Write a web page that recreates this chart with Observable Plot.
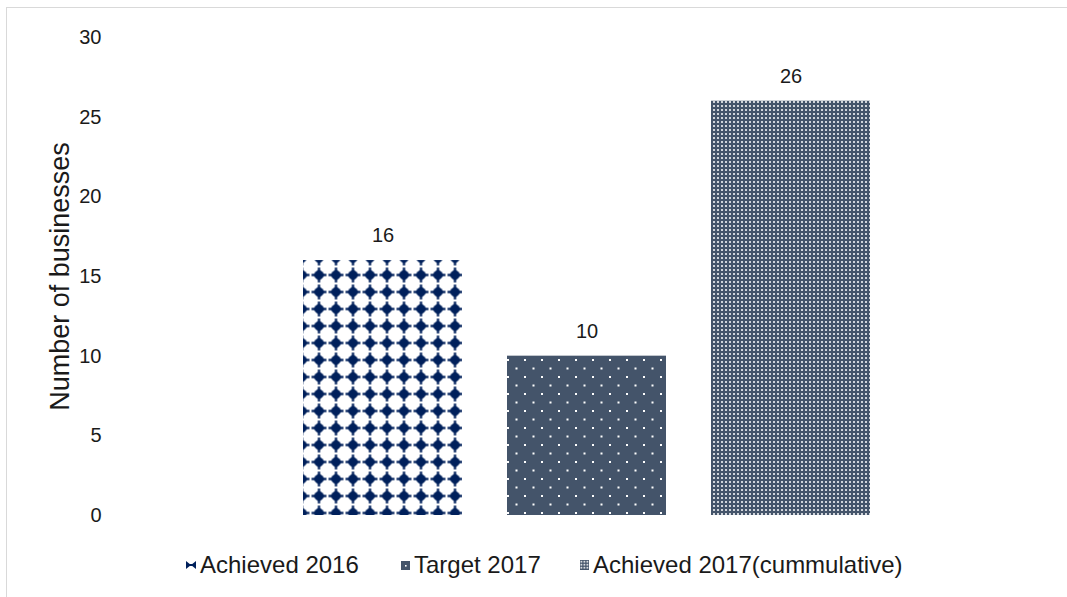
<!DOCTYPE html>
<html>
<head>
<meta charset="utf-8">
<script src="https://cdn.jsdelivr.net/npm/d3@7"></script>
<script src="https://cdn.jsdelivr.net/npm/@observablehq/plot@0.6"></script>
<style>
  html, body { margin: 0; padding: 0; background: #fff; width: 1067px; height: 597px; overflow: hidden; }
  #frame { position: absolute; left: 6px; top: 7px; width: 1061px; height: 590px; border-left: 1px solid #d9d9d9; border-top: 1px solid #d9d9d9; box-sizing: border-box; }
  #chart { position: absolute; left: 0; top: 0; }
  #legend { position: absolute; left: 0; top: 548px; width: 1067px; height: 34px; font-family: "Liberation Sans", Arial, sans-serif; font-size: 24px; color: #1a1a1a; }
  .item { position: absolute; top: 0; display: flex; align-items: center; height: 34px; white-space: nowrap; }
  .item svg { margin-right: 4px; }
</style>
</head>
<body>
<div id="frame"></div>
<svg width="0" height="0" style="position:absolute">
  <defs>
    <pattern id="pAch16" patternUnits="userSpaceOnUse" width="17" height="17" x="293.5" y="249.5">
      <rect width="17" height="17" fill="#ffffff"/>
      <path d="M8.5,2.5 L14.5,8.5 L8.5,14.5 L2.5,8.5 Z" fill="#00205b"/>
      <rect x="1" y="7.4" width="15" height="2.2" fill="#00205b"/>
      <rect x="7.4" y="1" width="2.2" height="15" fill="#00205b"/>
      <circle cx="8.5" cy="8.5" r="4.6" fill="#00205b"/>
    </pattern>
    <pattern id="pTgt17" patternUnits="userSpaceOnUse" width="17" height="17" x="507" y="359">
      <rect width="17" height="17" fill="#44546a"/>
      <rect x="0" y="0" width="2" height="2" fill="#ffffff"/>
      <rect x="8.5" y="8.5" width="2" height="2" fill="#ffffff"/>
    </pattern>
    <pattern id="pAch17" patternUnits="userSpaceOnUse" width="4" height="4" x="0" y="0">
      <rect width="4" height="4" fill="#44546a"/>
      <rect x="1" y="1" width="2" height="2" fill="#ffffff" fill-opacity="0.75"/>
    </pattern>
  </defs>
</svg>
<div id="chart"></div>
<div id="legend"></div>
<script>
// ---- data ----
const categories = ["Achieved 2016", "Target 2017", "Achieved 2017(cummulative)"];
const values = [16, 10, 26];
const yTicks = [0, 5, 10, 15, 20, 25, 30];
const yTitle = "Number of businesses";
const fills = ["url(#pAch16)", "url(#pTgt17)", "url(#pAch17)"];

const table = categories.map((c, i) => ({category: c, value: values[i], fill: fills[i]}));

const chart = Plot.plot({
  width: 1067,
  height: 540,
  marginTop: 37,
  marginBottom: 25,
  marginLeft: 110,
  marginRight: 3,
  style: {fontFamily: "'Liberation Sans', Arial, sans-serif", background: "transparent", color: "#1a1a1a"},
  x: {domain: categories, axis: null, paddingInner: 0.2195, paddingOuter: 0.937},
  y: {domain: [0, 30], ticks: yTicks, axis: null},
  color: {type: "identity"},
  marks: [
    Plot.axisY({ticks: yTicks, tickSize: 0, tickPadding: 9, label: null, fontSize: 20, fill: "#1a1a1a", tickFormat: d => String(d)}),
    Plot.barY(table, {x: "category", y: "value", fill: "fill"}),
    Plot.text(table, {x: "category", y: "value", text: d => String(d.value), dy: -25, fontSize: 20, fill: "#1a1a1a"}),
    Plot.text([yTitle], {frameAnchor: "left", textAnchor: "middle", text: d => d, rotate: -90, dx: -50, fontSize: 27, fill: "#1a1a1a"})
  ]
});
document.getElementById("chart").appendChild(chart);

// ---- legend ----
const swatches = [
  `<svg width="10" height="8" viewBox="0 0 10 8"><path d="M0,0 L5,4 L0,8 Z M10,0 L5,4 L10,8 Z" fill="#00205b"/><rect x="1" y="3" width="8" height="2" fill="#00205b"/></svg>`,
  `<svg width="9" height="9"><rect width="9" height="9" fill="#44546a"/><rect x="4" y="4" width="1.6" height="1.6" fill="#fff"/></svg>`,
  `<svg width="9" height="10"><rect width="9" height="10" fill="#44546a"/>` +
    [0,1,2].map(i => [0,1,2].map(j => `<rect x="${0.5 + i*3}" y="${0.8 + j*3}" width="1.8" height="1.8" fill="#fff" fill-opacity="0.8"/>`).join("")).join("") + `</svg>`
];
const legendLefts = [186, 401, 580];
const legend = document.getElementById("legend");
categories.forEach((c, i) => {
  const el = document.createElement("div");
  el.className = "item";
  el.style.left = legendLefts[i] + "px";
  el.innerHTML = swatches[i] + `<span>${c}</span>`;
  legend.appendChild(el);
});
</script>
</body>
</html>
